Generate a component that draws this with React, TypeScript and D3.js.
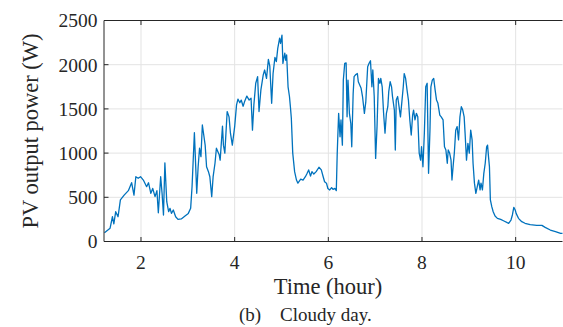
import React from 'react';
import { scaleLinear, line } from 'd3';

const dim = {
  width: 563,
  height: 327,
  left: 104,
  right: 562.5,
  top: 20.5,
  bottom: 241.5,
};

const xTicks = [2, 4, 6, 8, 10];
const yTicks = [0, 500, 1000, 1500, 2000, 2500];

// time in hours, PV output power in W
const hours = [
  1.22, 1.34, 1.39, 1.42, 1.46, 1.51, 1.56, 1.64, 1.73, 1.8, 1.85, 1.89, 1.94, 1.99, 2.05, 2.12, 2.16,
  2.21, 2.25, 2.3, 2.34, 2.37, 2.42, 2.45, 2.48, 2.51, 2.55, 2.59, 2.62, 2.65, 2.69, 2.74, 2.79, 2.86,
  2.94, 3.01, 3.06, 3.09, 3.14, 3.16, 3.19, 3.22, 3.25, 3.28, 3.31, 3.34, 3.37, 3.4, 3.44, 3.47, 3.51,
  3.54, 3.58, 3.61, 3.67, 3.69, 3.74, 3.76, 3.79, 3.84, 3.88, 3.91, 3.95, 4.0, 4.04, 4.07, 4.11, 4.14,
  4.18, 4.21, 4.26, 4.31, 4.35, 4.38, 4.41, 4.45, 4.49, 4.52, 4.56, 4.61, 4.64, 4.68, 4.72, 4.75, 4.79,
  4.82, 4.86, 4.89, 4.92, 4.96, 4.98, 5.01, 5.03, 5.07, 5.09, 5.11, 5.14, 5.17, 5.19, 5.21, 5.22, 5.24,
  5.28, 5.32, 5.35, 5.41, 5.46, 5.51, 5.54, 5.58, 5.62, 5.65, 5.69, 5.74, 5.8, 5.85, 5.89, 5.92, 5.96,
  5.99, 6.03, 6.07, 6.1, 6.14, 6.17, 6.19, 6.22, 6.25, 6.27, 6.3, 6.32, 6.35, 6.38, 6.4, 6.42, 6.45,
  6.48, 6.5, 6.53, 6.55, 6.58, 6.62, 6.64, 6.67, 6.7, 6.73, 6.77, 6.8, 6.84, 6.87, 6.9, 6.93, 6.95,
  6.98, 7.01, 7.04, 7.07, 7.1, 7.12, 7.15, 7.18, 7.21, 7.24, 7.27, 7.29, 7.32, 7.35, 7.37, 7.41, 7.43,
  7.45, 7.48, 7.51, 7.54, 7.57, 7.6, 7.62, 7.65, 7.68, 7.71, 7.74, 7.77, 7.8, 7.82, 7.85, 7.88, 7.91,
  7.94, 7.97, 7.99, 8.02, 8.05, 8.08, 8.11, 8.14, 8.17, 8.19, 8.22, 8.25, 8.28, 8.31, 8.34, 8.38, 8.41,
  8.45, 8.48, 8.51, 8.54, 8.56, 8.59, 8.62, 8.64, 8.67, 8.69, 8.72, 8.75, 8.78, 8.81, 8.84, 8.87, 8.9,
  8.92, 8.95, 8.98, 9.01, 9.04, 9.07, 9.09, 9.12, 9.15, 9.18, 9.21, 9.24, 9.26, 9.29, 9.32, 9.35, 9.38,
  9.4, 9.42, 9.44, 9.46, 9.49, 9.52, 9.56, 9.61, 9.68, 9.75, 9.82, 9.85, 9.9, 9.93, 9.96, 9.99, 10.01,
  10.06, 10.13, 10.2, 10.31, 10.45, 10.56, 10.63, 10.74, 10.85, 10.96, 11.0,
];

const power = [
  100, 150, 280, 200, 337, 280, 470, 525, 575, 665, 525, 733, 715, 733, 695, 620, 665,
  545, 600, 507, 575, 325, 733, 545, 300, 890, 450, 337, 375, 318, 356, 280, 250, 255,
  288, 318, 375, 620, 1230, 960, 545, 845, 1055, 960, 1318, 1205, 1090, 845, 790, 733, 507,
  733, 885, 1055, 980, 920, 1305, 1090, 1000, 1470, 1410, 1225, 1090, 1300, 1545, 1610, 1570, 1600,
  1530, 1580, 1645, 1600, 1620, 1260, 1545, 1790, 1865, 1470, 1715, 1885, 1940, 1845, 2060, 1985, 1563,
  1900, 2083, 2035, 2185, 2300, 2240, 2335, 2015, 2130, 2050, 2110, 1750, 1640, 1525, 1395, 1260, 1000,
  790, 695, 660, 705, 695, 733, 763, 810, 740, 790, 763, 790, 840, 810, 733, 676, 660,
  600, 583, 610, 590, 600, 575, 1000, 1450, 1185, 1375, 1090, 1825, 2015, 2020, 1410, 1825, 1450,
  1335, 1072, 1675, 1865, 1885, 1900, 1807, 1770, 1733, 1640, 1450, 1580, 1977, 2015, 2045, 1750, 1940,
  1640, 940, 1300, 1845, 1790, 1845, 1750, 1450, 1225, 1450, 1525, 1695, 1807, 1750, 1640, 1487, 1035,
  1600, 1640, 1525, 1410, 1580, 1750, 1900, 1845, 1715, 1600, 1375, 1205, 1430, 1487, 1375, 1450, 1410,
  1000, 920, 1072, 845, 1225, 1750, 1790, 771, 1260, 1750, 1825, 1845, 1715, 1600, 1563, 1430, 1410,
  1375, 1072, 1035, 885, 1035, 1000, 920, 695, 885, 1000, 1260, 1300, 1150, 1410, 1525, 1487, 1410,
  1225, 920, 1110, 1000, 1260, 1150, 885, 660, 545, 620, 695, 583, 660, 583, 771, 885, 1072,
  1090, 960, 845, 470, 394, 337, 288, 262, 250, 232, 213, 206, 243, 300, 387, 356, 318,
  262, 224, 206, 190, 183, 183, 160, 130, 111, 92, 92,
];

const axisColor = '#262626';
const gridColor = '#e3e3e3';
const lineColor = '#0072bd';
const textStyle = { fontFamily: 'Liberation Serif, serif' };

const App = () => {
  const xScale = scaleLinear().domain([1.21, 11]).range([dim.left, dim.right]);
  const yScale = scaleLinear().domain([0, 2500]).range([dim.bottom, dim.top]);

  const pts = hours.map((h, i) => [h, power[i]] as [number, number]);
  const path = line<[number, number]>()
    .x((d) => xScale(d[0]))
    .y((d) => yScale(d[1]))(pts);

  return (
    <svg
      width={dim.width}
      height={dim.height}
      style={{ position: 'absolute', left: 0, top: 0, background: '#fff' }}
    >
      {/* grid */}
      {xTicks.map((t) => (
        <line key={'gx' + t} x1={xScale(t)} x2={xScale(t)} y1={dim.top} y2={dim.bottom} stroke={gridColor} strokeWidth={1} />
      ))}
      {yTicks.slice(1, -1).map((t) => (
        <line key={'gy' + t} x1={dim.left} x2={dim.right} y1={yScale(t)} y2={yScale(t)} stroke={gridColor} strokeWidth={1} />
      ))}

      <path d={path || ''} fill="none" stroke={lineColor} strokeWidth={1.3} strokeLinejoin="round" />

      {/* axes box */}
      <line x1={dim.left} x2={dim.right} y1={dim.bottom} y2={dim.bottom} stroke={axisColor} strokeWidth={1} />
      <line x1={dim.left} x2={dim.right} y1={dim.top} y2={dim.top} stroke={axisColor} strokeWidth={1} />
      <line x1={dim.left} x2={dim.left} y1={dim.top} y2={dim.bottom} stroke={axisColor} strokeWidth={1} />

      <g style={textStyle} fill={axisColor}>
        {xTicks.map((t) => (
          <g key={'tx' + t}>
            <line x1={xScale(t)} x2={xScale(t)} y1={dim.bottom} y2={dim.bottom - 4.5} stroke={axisColor} />
            <line x1={xScale(t)} x2={xScale(t)} y1={dim.top} y2={dim.top + 4.5} stroke={axisColor} />
            <text x={xScale(t)} y={269} textAnchor="middle" fontSize={19.5}>
              {t}
            </text>
          </g>
        ))}
        {yTicks.map((t) => (
          <g key={'ty' + t}>
            <line x1={dim.left} x2={dim.left + 4.5} y1={yScale(t)} y2={yScale(t)} stroke={axisColor} />
            <text x={97.5} y={yScale(t)} dy="0.35em" textAnchor="end" fontSize={19.5}>
              {t}
            </text>
          </g>
        ))}

        <text x={328} y={294} textAnchor="middle" fontSize={22.5}>
          Time (hour)
        </text>
        <text
          transform={`translate(38, ${(dim.top + dim.bottom) / 2}) rotate(-90)`}
          textAnchor="middle"
          fontSize={22.5}
        >
          PV output power (W)
        </text>

        <text y={321} fontSize={19}>
          <tspan x={239}>(b)</tspan>
          <tspan x={280}>Cloudy day.</tspan>
        </text>
      </g>
    </svg>
  );
};

export default App;
